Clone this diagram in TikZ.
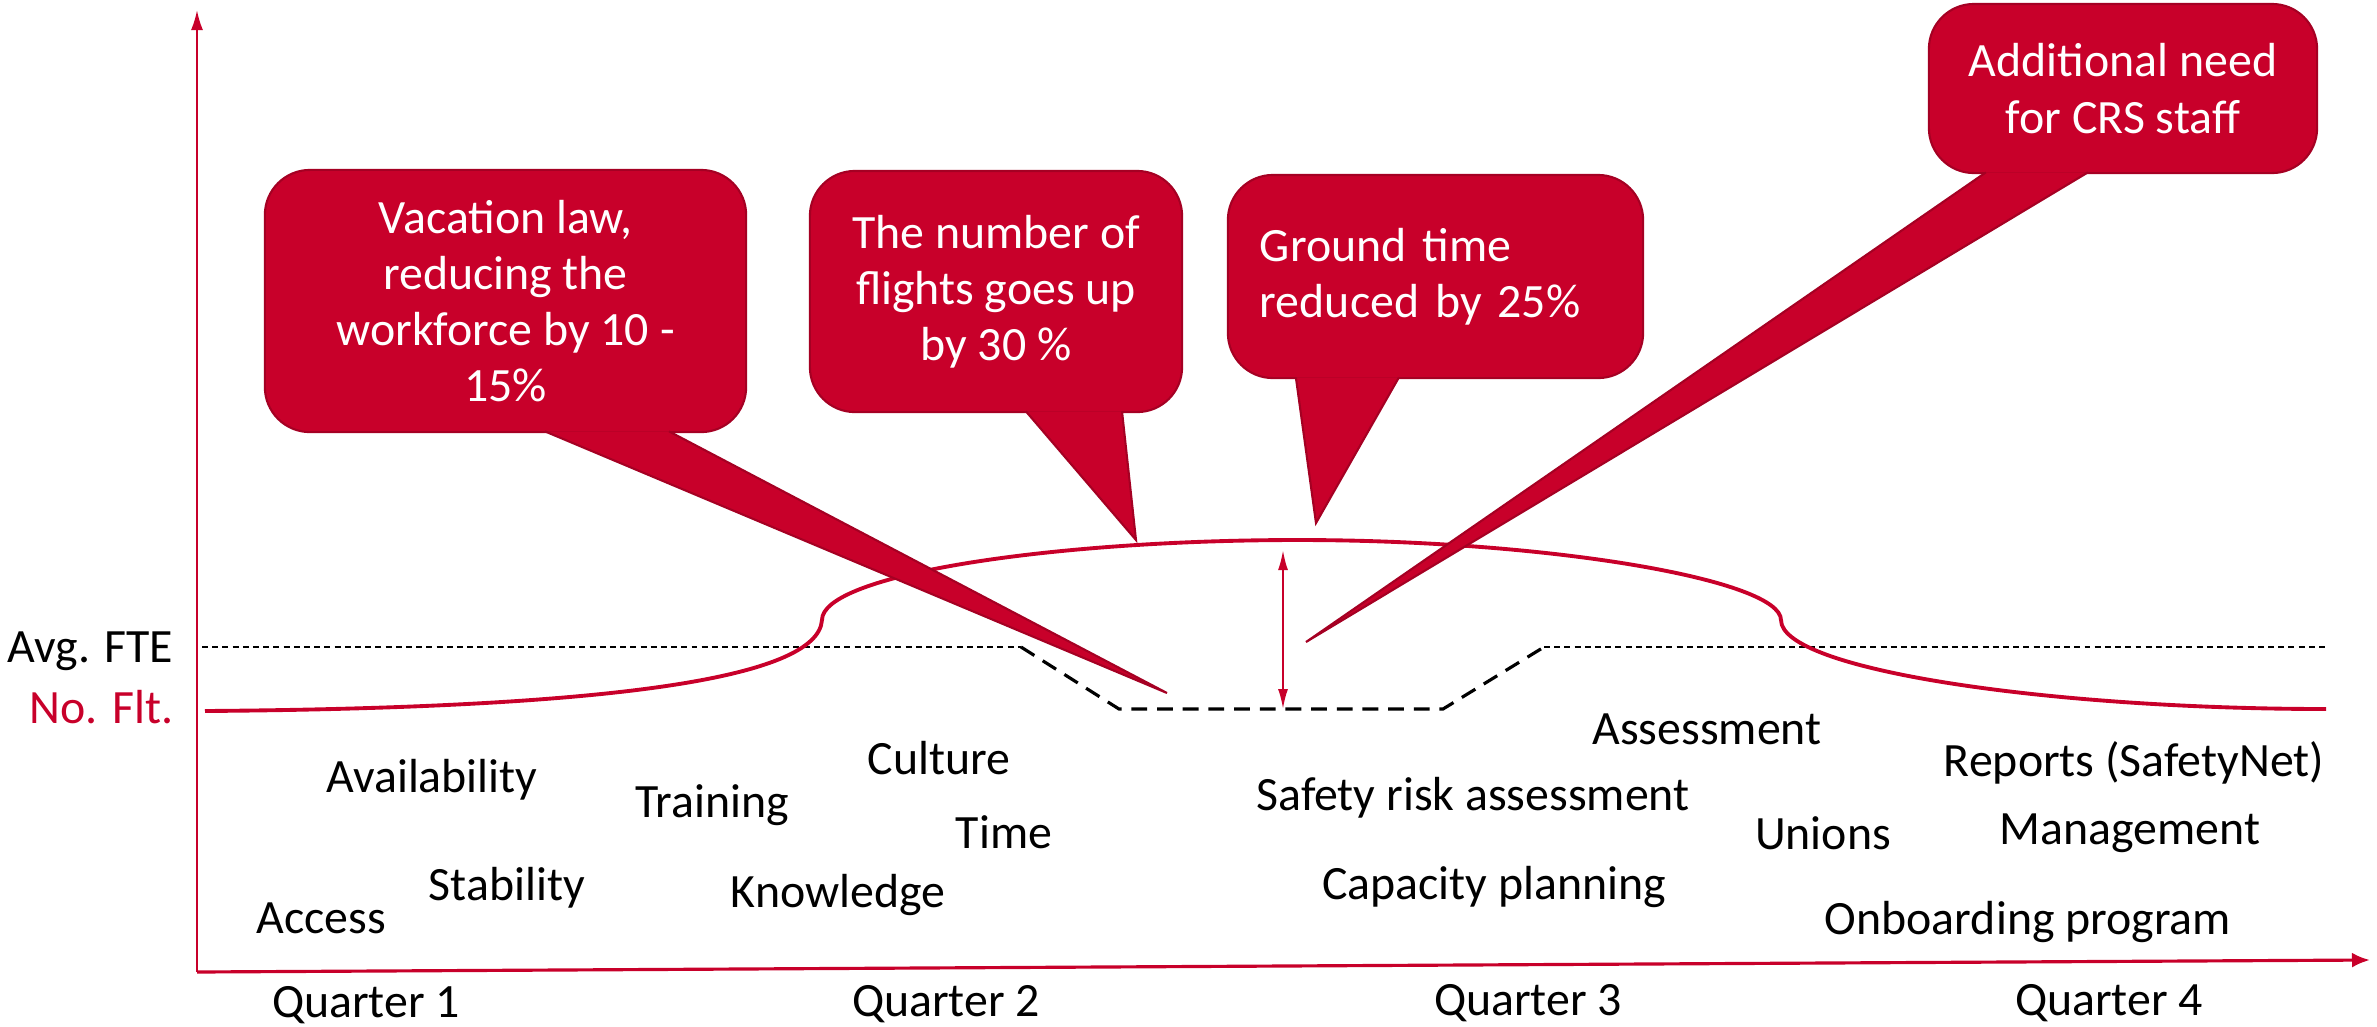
\documentclass[tikz,border=0pt]{standalone}
\usepackage{fontspec}
\setmainfont{Carlito}
\usetikzlibrary{positioning,arrows.meta}
\definecolor{flred}{RGB}{200,0,42}
\definecolor{flredline}{RGB}{165,0,35}
\tikzset{
  lbl/.style={inner sep=0pt, font=\fontsize{13.6}{16}\selectfont},
  bubble/.style={fill=flred, draw=flredline, line width=0.6pt, rounded corners=0.45cm,
    text=white, align=center, inner sep=0pt, font=\fontsize{13.6}{16}\selectfont},
  wedge/.style={fill=flred, draw=flredline, line width=0.6pt},
  fte/.style={black, line width=0.45pt, dash pattern=on 1.7pt off 1.2pt},
  ftedip/.style={black, line width=0.9pt, dash pattern=on 4.5pt off 2.8pt},
}

\begin{document}
\begin{tikzpicture}[x=0.01cm, y=-0.01cm]
    \useasboundingbox (0,0) rectangle (2377,1026);

    \coordinate (origin) at (197,972);
    \coordinate (ytop) at (197,10);
    \coordinate (xend) at (2370,960);
    \draw[flred, line width=0.6pt, -{Latex[length=2mm,width=1.2mm]}] (origin) -- (ytop);
    \draw[flred, line width=0.9pt, -{Latex[length=1.8mm,width=1.5mm]}] (origin) -- (xend);

    \coordinate (fteA) at (202,647);
    \coordinate (fteB) at (1021,647);
    \coordinate (fteC) at (1119,709);
    \coordinate (fteD) at (1443,709);
    \coordinate (fteE) at (1544,647);
    \coordinate (fteF) at (2326,647);
    \draw[fte] (fteA) -- (fteB);
    \draw[ftedip] (fteB) -- (fteC) -- (fteD) -- (fteE);
    \draw[fte] (fteE) -- (fteF);

    \draw[flred, line width=1.1pt] (205,711) .. controls (600,708) and (818,680) .. (822,620)
        .. controls (822,575) and (1050,540) .. (1298,540)
        .. controls (1550,540) and (1781,580) .. (1781,620)
        .. controls (1781,670) and (2050,709) .. (2326,709);

    \coordinate (peak) at (1283,550);
    \coordinate (dip) at (1283,709);
    \draw[flred, line width=0.6pt, {Latex[length=2mm,width=1mm]}-{Latex[length=2mm,width=1mm]}] (peak) -- (dip);

    \node[bubble, minimum width=4.81cm, minimum height=2.62cm] (vacation) at (505.5,301) {Vacation law,\\reducing the\\workforce by 10 -\\15\%};
    \node[bubble, minimum width=3.72cm, minimum height=2.41cm] (flights) at (996,291.5) {The number of\\flights goes up\\by 30 \%};
    \node[bubble, minimum width=4.15cm, minimum height=2.03cm, text width=3.51cm, align=left] (ground) at (1435.5,276.5) {Ground time\\reduced by 25\%};
    \node[bubble, minimum width=3.88cm, minimum height=1.69cm] (crs) at (2123,88.5) {Additional need\\for CRS staff};

    \coordinate (vacationtip) at (1167,693);
    \coordinate (flightstip) at (1136,540);
    \coordinate (groundtip) at (1316,523);
    \coordinate (crstip) at (1306,642);
    \filldraw[wedge] ([xshift=2.81cm,yshift=0.5pt]vacation.south west) -- (vacationtip) -- ([xshift=4.05cm,yshift=0.5pt]vacation.south west);
    \filldraw[wedge] ([xshift=2.17cm,yshift=0.5pt]flights.south west) -- (flightstip) -- ([xshift=3.13cm,yshift=0.5pt]flights.south west);
    \filldraw[wedge] ([xshift=0.69cm,yshift=0.5pt]ground.south west) -- (groundtip) -- ([xshift=1.72cm,yshift=0.5pt]ground.south west);
    \filldraw[wedge] ([xshift=0.58cm,yshift=0.5pt]crs.south west) -- (crstip) -- ([xshift=1.60cm,yshift=0.5pt]crs.south west);

    \node[lbl, anchor=base east] (avgfte) at (174,662) {Avg. FTE};
    \node[lbl, anchor=base east, text=flred] (noflt) at (174,723) {No. Flt.};

    \node[lbl] (availability) at (432,780) {Availability};
    \node[lbl] (training) at (712,805) {Training};
    \node[lbl] (culture) at (939,758) {Culture};
    \node[lbl] (time) at (1004,832) {Time};
    \node[lbl] (stability) at (507,888) {Stability};
    \node[lbl] (knowledge) at (838,895) {Knowledge};
    \node[lbl] (access) at (321,918) {Access};
    \node[lbl] (safety) at (1473,798) {Safety risk assessment};
    \node[lbl] (assessment) at (1707,729) {Assessment};
    \node[lbl] (capacity) at (1494,887) {Capacity planning};
    \node[lbl] (unions) at (1823,833) {Unions};
    \node[lbl] (reports) at (2134,763) {Reports (SafetyNet)};
    \node[lbl] (management) at (2130,833) {Management};
    \node[lbl] (onboarding) at (2028,922) {Onboarding program};

    \node[lbl] (q1) at (366,1005) {Quarter 1};
    \node[lbl] (q2) at (946,1004) {Quarter 2};
    \node[lbl] (q3) at (1528,1003) {Quarter 3};
    \node[lbl] (q4) at (2109,1003) {Quarter 4};
\end{tikzpicture}
\end{document}
